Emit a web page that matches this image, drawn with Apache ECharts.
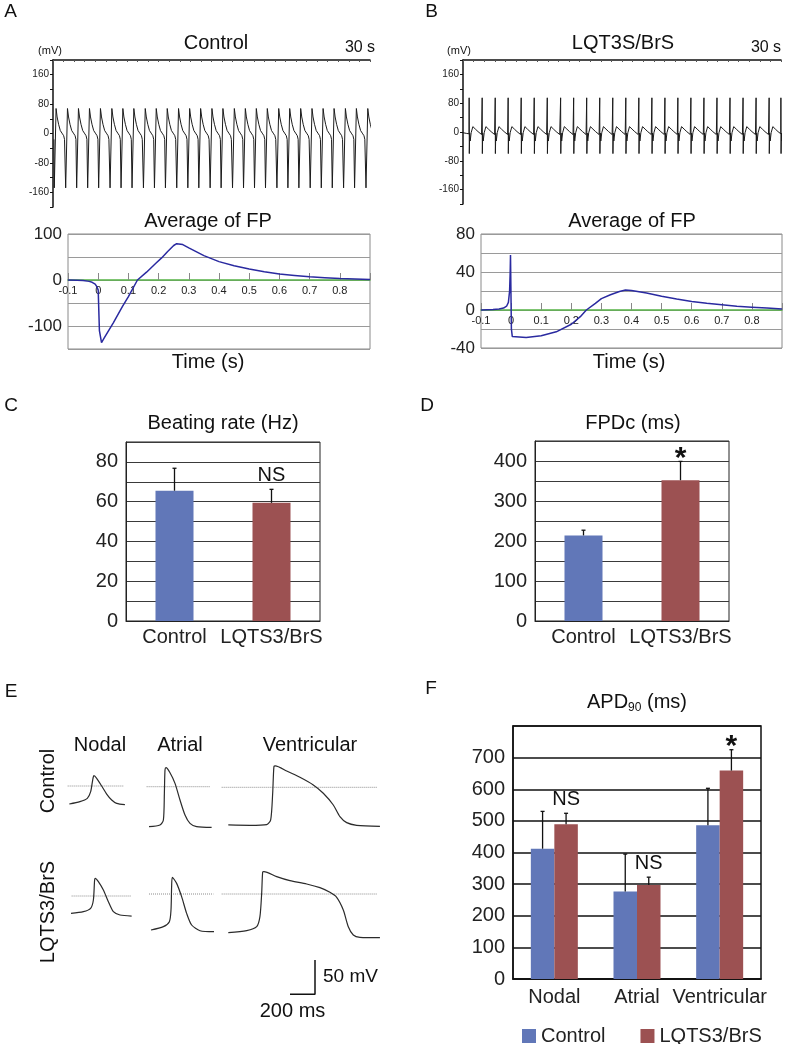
<!DOCTYPE html>
<html><head><meta charset="utf-8">
<script src="https://cdn.jsdelivr.net/npm/echarts@6/dist/echarts.min.js"></script>
<style>html,body{margin:0;padding:0;background:#fff}#c{width:787px;height:1044px}</style>
</head><body><div id="c"></div>
<script>
const FONT = '"Liberation Sans", Arial, Helvetica, sans-serif';

// ---------- Panels A/B: 30 s recordings (beat onsets in s, beat waveform [s offset, mV]) ----------
const rawOnsetsCtrl = [0.09,1.17,2.21,3.25,4.29,5.37,6.41,7.45,8.53,9.57,10.61,11.68,12.73,13.77,14.84,15.88,16.96,18.00,19.04,20.08,21.16,22.20,23.24,24.31,25.36,26.40,27.47,28.51,29.59];
const rawBeatCtrl = [[0,-16],[0.03,-148],[0.2,68],[0.3,45],[0.44,25],[0.6,8],[0.76,1],[0.92,-6],[1.0,-16]];
const rawOnsetsLqt = [0.57,1.80,3.03,4.25,5.48,6.71,7.94,9.20,10.43,11.66,12.89,14.12,15.35,16.58,17.81,19.04,20.26,21.49,22.72,23.95,25.18,26.41,27.64,28.87,29.98];
const rawBeatLqt = [[0,-5],[0.01,95],[0.025,-60],[0.06,-3],[0.11,-25],[0.2,-2],[0.36,15],[0.6,8],[0.85,1],[1.18,-7]];
const rawLeadLqt = [[0,-2],[0.35,-4]];
const rawTickLabels = [-160,-80,0,80,160];

// ---------- Average of FP ----------
const avgTimeCtrl = [-0.1,-0.07,-0.05,-0.03,-0.02,-0.01,-0.004,0,0.004,0.011,0.02,0.05,0.08,0.1,0.13,0.16,0.19,0.21,0.23,0.25,0.26,0.28,0.3,0.35,0.4,0.45,0.5,0.55,0.6,0.65,0.7,0.75,0.8,0.85,0.9];
const avgValCtrl  = [0,-0.5,-1,-3,-5,-9,-15,-22,-110,-136,-126,-93,-58,-36,0,17,36,48,62,75,79,77,70,53,40,31,24,18,13,10,7,5,3,2,1];
const avgTimeLqt = [-0.1,-0.06,-0.04,-0.025,-0.015,-0.009,-0.005,-0.003,-0.002,0.001,0.004,0.01,0.05,0.1,0.15,0.2,0.23,0.25,0.28,0.3,0.33,0.36,0.38,0.4,0.45,0.5,0.55,0.6,0.65,0.7,0.75,0.8,0.85,0.9];
const avgValLqt  = [0,0.5,1,2,4,8,20,40,58,-20,-28,-29,-29,-27,-23,-15,-7,0,7,12,16,19.5,21,20.5,18,14.5,11.5,9,7,5.5,4,3,2,1];
const avgTickLabelsCtrl = [100,0,-100];
const avgTickLabelsLqt = [80,40,0,-40];

// ---------- Panels C/D ----------
const groups = ['Control','LQTS3/BrS'];
const rateMean = [65.5, 59.4];
const rateErr  = [11.3, 6.8];
const rateSig  = ['', 'NS'];
const fpdcMean = [214, 352];
const fpdcErr  = [13, 47];
const fpdcSig  = ['', '*'];

// ---------- Panel E: action potentials [ms, mV rel. to dotted line] ----------
const apCtrlNodal  = [[0,-26.2],[85,-22.8],[144,-18],[171,-8.3],[187,8.7],[197,15],[219,11.2],[259,0],[299,-11.7],[339,-20.4],[379,-25.3],[445,-27.2]];
const apCtrlAtrial = [[0,-58.3],[88,-55.9],[115,-48.6],[123,-9.7],[128,24.3],[136,27.7],[168,20.4],[208,4.9],[248,-19.4],[288,-41.3],[328,-53.5],[381,-58.3],[501,-59.3]];
const apCtrlVent   = [[0,-54.9],[173,-55.4],[307,-54.4],[339,-47.6],[355,-8.7],[365,30.1],[376,31.1],[467,23.8],[573,14.6],[680,3.4],[760,-8.7],[840,-25.8],[893,-42.8],[947,-51.5],[1027,-55.4],[1213,-56.9]];
const apLqtNodal   = [[0,-25.3],[99,-22.8],[157,-18],[179,-5.8],[189,23.3],[195,25.8],[219,20.9],[259,8.7],[299,-8.3],[339,-22.8],[392,-27.7],[485,-29.2]];
const apLqtAtrial  = [[0,-52.5],[99,-47.6],[147,-40.3],[160,-23.3],[165,10.7],[171,24.3],[205,15.5],[245,-3.9],[285,-28.2],[325,-45.2],[392,-53.5],[504,-54.9]];
const apLqtVent    = [[0,-56.4],[147,-53.5],[227,-47.6],[253,-33],[267,1],[275,32.1],[285,32.6],[387,25.3],[493,19.4],[627,14.6],[733,9.2],[813,2.4],[867,-4.9],[920,-23.3],[960,-47.6],[1000,-59.8],[1053,-63.2],[1213,-63.7]];
const apRefSpans   = [[-13,437],[-19,493],[-53,1187],[5,477],[-16,499],[-53,1187]];
const scaleBarMs = 200, scaleBarMv = 50;

// ---------- Panel F ----------
const apCats = ['Nodal','Atrial','Ventricular'];
const apdCtrl    = [412, 277, 486];
const apdCtrlErr = [118, 118, 117];
const apdLqt     = [489, 297, 659];
const apdLqtErr  = [35, 25, 66];
const apdSig     = ['NS','NS','*'];

// =================== build ===================
const BLUE = '#6177b8', RED = '#9c5152';
const grids = [], xAxes = [], yAxes = [], series = [];
function addGrid(g, xa, ya) {
  const i = grids.length;
  grids.push(Object.assign({ outerBoundsMode: 'none', containLabel: false }, g));
  xAxes.push(Object.assign({ gridIndex: i }, xa));
  yAxes.push(Object.assign({ gridIndex: i }, ya));
  return i;
}
function buildRaw(onsets, beat, lead) {
  const out = lead.map(p => p.slice());
  onsets.forEach((t0, k) => {
    const next = k + 1 < onsets.length ? onsets[k + 1] : Infinity;
    beat.forEach(([dt, v]) => { const t = t0 + dt; if (t < next) out.push([Math.round(t * 1000) / 1000, v]); });
  });
  return out;
}
const zip = (a, b) => a.map((v, i) => [v, b[i]]);

// Raw traces
function rawAxes() {
  return [
    { type: 'value', position: 'top', min: 0, max: 30, interval: 1,
      axisLine: { onZero: false, lineStyle: { color: '#111', width: 1.5 } },
      axisTick: { inside: true, length: 2, lineStyle: { color: '#555' } },
      axisLabel: { show: false }, splitLine: { show: false } },
    { type: 'value', min: -200, max: 200, interval: 40,
      axisLine: { show: true, lineStyle: { color: '#111', width: 1.5 } },
      axisTick: { show: true, length: 3, lineStyle: { color: '#111' } },
      axisLabel: { fontSize: 10, fontFamily: FONT, color: '#222', margin: 4,
        formatter: v => rawTickLabels.includes(v) ? String(v) : '' },
      splitLine: { show: false } }
  ];
}
let ra = rawAxes();
const gA = addGrid({ left: 53, top: 60, width: 317, height: 147 }, ra[0], ra[1]);
ra = rawAxes();
const gB = addGrid({ left: 463, top: 60, width: 318, height: 144 }, ra[0], ra[1]);
series.push({ type: 'line', xAxisIndex: gA, yAxisIndex: gA, data: buildRaw(rawOnsetsCtrl, rawBeatCtrl, []),
  showSymbol: false, symbol: 'none', lineStyle: { color: '#1b1b1b', width: 1 } });
series.push({ type: 'line', xAxisIndex: gB, yAxisIndex: gB, data: buildRaw(rawOnsetsLqt, rawBeatLqt, rawLeadLqt),
  showSymbol: false, symbol: 'none', lineStyle: { color: '#1b1b1b', width: 1 } });

// Average FP
function avgX(offset) {
  return { type: 'value', min: -0.1, max: 0.9, interval: 0.1, position: 'bottom', offset,
    axisLine: { onZero: false, lineStyle: { color: '#56b345', width: 1.6 } },
    axisTick: { inside: true, length: 7, lineStyle: { color: '#888' } },
    axisLabel: { fontSize: 11, fontFamily: FONT, color: '#222', margin: 5,
      formatter: v => v > 0.85 ? '' : String(Math.round(v * 10) / 10) },
    splitLine: { show: false } };
}
function avgY(min, max, itv, labels) {
  return { type: 'value', min, max, interval: itv,
    axisLine: { show: false }, axisTick: { show: false },
    axisLabel: { fontSize: 17, fontFamily: FONT, color: '#222', margin: 6,
      formatter: v => labels.includes(v) ? String(v) : '' },
    splitLine: { show: true, lineStyle: { color: '#9a9a9a', width: 1 } } };
}
// zero line offsets from grid bottom (layout)
const gAa = addGrid({ left: 68, top: 234, width: 302, height: 115, show: true, borderColor: '#8a8a8a', borderWidth: 1 },
  avgX(-115 * 150 / 250), avgY(-150, 100, 50, avgTickLabelsCtrl));
const gBa = addGrid({ left: 481, top: 234, width: 301, height: 114, show: true, borderColor: '#8a8a8a', borderWidth: 1 },
  avgX(-114 * 40 / 120), avgY(-40, 80, 20, avgTickLabelsLqt));
series.push({ type: 'line', xAxisIndex: gAa, yAxisIndex: gAa, data: zip(avgTimeCtrl, avgValCtrl), z: 5,
  showSymbol: false, symbol: 'none', lineStyle: { color: '#2a2aa0', width: 1.5 } });
series.push({ type: 'line', xAxisIndex: gBa, yAxisIndex: gBa, data: zip(avgTimeLqt, avgValLqt), z: 5,
  showSymbol: false, symbol: 'none', lineStyle: { color: '#2a2aa0', width: 1.5 } });

// Error bar renderer
function errRender(offsetPx, sig) {
  return function (params, api) {
    const i = api.value(0), m = api.value(1), e = api.value(2);
    const p0 = api.coord([i, m]), p1 = api.coord([i, m + e]);
    const x = p0[0] + offsetPx;
    const st = { stroke: '#111', lineWidth: 1.3 };
    const ch = [
      { type: 'line', shape: { x1: x, y1: p0[1], x2: x, y2: p1[1] }, style: st },
      { type: 'line', shape: { x1: x - 2, y1: p1[1], x2: x + 2, y2: p1[1] }, style: st }
    ];
    const s = sig ? sig[params.dataIndex] : '';
    if (s) {
      const star = s === '*';
      ch.push({ type: 'text', x: x, y: p1[1] - (star ? 3 : 14),
        style: { text: s, fontSize: star ? 30 : 20, fontWeight: star ? 'bold' : 'normal', fontFamily: FONT, fill: '#111',
          align: 'center', verticalAlign: 'middle', textAlign: 'center', textVerticalAlign: 'middle' } });
    }
    return { type: 'group', children: ch };
  };
}
function barX(cats, margin) {
  return { type: 'category', data: cats,
    axisLine: { show: true, lineStyle: { color: '#222', width: 1 } }, axisTick: { show: false },
    axisLabel: { interval: 0, hideOverlap: false, fontSize: 20, fontFamily: FONT, color: '#222', margin } };
}
function barY(max, itv, labelStep, sw, sc) {
  return { type: 'value', min: 0, max, interval: itv,
    axisLine: { show: true, lineStyle: { color: '#222', width: 1 } }, axisTick: { show: false },
    axisLabel: { fontSize: 20, fontFamily: FONT, color: '#222', margin: 8,
      formatter: v => (v % labelStep === 0 && v < max) ? String(v) : '' },
    splitLine: { show: true, lineStyle: { color: sc, width: sw } } };
}
// C
const gC = addGrid({ left: 126, top: 442, width: 194, height: 179, show: true, borderColor: '#222', borderWidth: 1 },
  barX(groups, 6), barY(90, 10, 20, 1, '#3a3a3a'));
series.push({ type: 'bar', name: 'Beating rate', xAxisIndex: gC, yAxisIndex: gC, barWidth: 38, z: 3,
  data: rateMean.map((v, i) => ({ value: v, itemStyle: { color: i ? RED : BLUE } })) });
series.push({ type: 'custom', xAxisIndex: gC, yAxisIndex: gC, z: 4, renderItem: errRender(0, rateSig),
  data: rateMean.map((v, i) => [i, v, rateErr[i]]) });
// D
const gD = addGrid({ left: 535, top: 441, width: 194, height: 180, show: true, borderColor: '#222', borderWidth: 1 },
  barX(groups, 6), barY(450, 50, 100, 1, '#3a3a3a'));
series.push({ type: 'bar', name: 'FPDc', xAxisIndex: gD, yAxisIndex: gD, barWidth: 38, z: 3,
  data: fpdcMean.map((v, i) => ({ value: v, itemStyle: { color: i ? RED : BLUE } })) });
series.push({ type: 'custom', xAxisIndex: gD, yAxisIndex: gD, z: 4, renderItem: errRender(0, fpdcSig),
  data: fpdcMean.map((v, i) => [i, v, fpdcErr[i]]) });
// F
const BWF = 23.5;
const gF = addGrid({ left: 513, top: 726, width: 248, height: 253, show: true, borderColor: '#111', borderWidth: 1.5 },
  barX(apCats, 8), barY(800, 100, 100, 1.5, '#111'));
xAxes[gF].axisLine.lineStyle = { color: '#111', width: 1.5 };
yAxes[gF].axisLine.lineStyle = { color: '#111', width: 1.5 };
series.push({ type: 'bar', name: 'Control', xAxisIndex: gF, yAxisIndex: gF, barWidth: BWF, barGap: '0%', z: 3,
  itemStyle: { color: BLUE }, data: apdCtrl });
series.push({ type: 'bar', name: 'LQTS3/BrS', xAxisIndex: gF, yAxisIndex: gF, barWidth: BWF, barGap: '0%', z: 3,
  itemStyle: { color: RED }, data: apdLqt });
series.push({ type: 'custom', xAxisIndex: gF, yAxisIndex: gF, z: 4, renderItem: errRender(-BWF / 2, null),
  data: apdCtrl.map((v, i) => [i, v, apdCtrlErr[i]]) });
series.push({ type: 'custom', xAxisIndex: gF, yAxisIndex: gF, z: 4, renderItem: errRender(BWF / 2, apdSig),
  data: apdLqt.map((v, i) => [i, v, apdLqtErr[i]]) });

// E: action potentials
const PX_MS = 0.125, PX_MV = 0.686, Y_MIN = -70, Y_MAX = 40;
const apTraces = [apCtrlNodal, apCtrlAtrial, apCtrlVent, apLqtNodal, apLqtAtrial, apLqtVent];
const apStartX = [69.3, 149, 228.3, 71, 151, 228.3];
const apZeroY  = [786, 786.7, 787.3, 896, 894, 894];
apTraces.forEach((tr, k) => {
  const span = apRefSpans[k];
  const xmin = Math.min(0, span[0]), xmax = Math.max(tr[tr.length - 1][0], span[1]);
  const g = addGrid({ left: apStartX[k] + xmin * PX_MS, top: apZeroY[k] - Y_MAX * PX_MV,
      width: (xmax - xmin) * PX_MS, height: (Y_MAX - Y_MIN) * PX_MV },
    { type: 'value', min: xmin, max: xmax, show: false },
    { type: 'value', min: Y_MIN, max: Y_MAX, show: false });
  series.push({ type: 'line', xAxisIndex: g, yAxisIndex: g, data: [[span[0], 0], [span[1], 0]], clip: false,
    showSymbol: false, symbol: 'none', lineStyle: { color: '#8c8c8c', width: 1, type: 'dotted' } });
  series.push({ type: 'line', xAxisIndex: g, yAxisIndex: g, data: tr, clip: false, smooth: 0.25,
    showSymbol: false, symbol: 'none', lineStyle: { color: '#2b2b2b', width: 1.2 } });
});
const gS = addGrid({ left: 290, top: 960, width: scaleBarMs * PX_MS, height: scaleBarMv * PX_MV },
  { type: 'value', min: 0, max: scaleBarMs, show: false },
  { type: 'value', min: 0, max: scaleBarMv, show: false });
series.push({ type: 'line', xAxisIndex: gS, yAxisIndex: gS, clip: false,
  data: [[0, 0], [scaleBarMs, 0], [scaleBarMs, scaleBarMv]],
  showSymbol: false, symbol: 'none', lineStyle: { color: '#111', width: 1.5 } });

// Texts
function txt(t, x, y, size, opt) {
  opt = opt || {};
  const al = opt.align || 'center';
  return { type: 'text', x, y, rotation: opt.rot || 0, silent: true,
    style: { text: t, fontSize: size, fontFamily: FONT, fill: '#111', fontWeight: opt.bold ? 'bold' : 'normal',
      align: al, verticalAlign: 'middle', textAlign: al, textVerticalAlign: 'middle', rich: opt.rich } };
}
const texts = [
  txt('A', 10.5, 12, 19), txt('B', 431.5, 12, 19), txt('C', 11, 406, 19), txt('D', 427, 406, 19),
  txt('E', 11, 692, 19), txt('F', 431, 689, 19),
  txt('Control', 216, 43, 20), txt('LQT3S/BrS', 623, 43, 20),
  txt('(mV)', 50, 51, 11), txt('(mV)', 459, 51, 11),
  txt('30 s', 360, 48, 16), txt('30 s', 766, 48, 16),
  txt('Average of FP', 208, 221, 20), txt('Average of FP', 632, 221, 20),
  txt('Time (s)', 208, 362, 20), txt('Time (s)', 629, 362, 20),
  txt('Beating rate (Hz)', 223, 423, 20), txt('FPDc (ms)', 633, 423, 20),
  txt('Nodal', 100, 745, 20), txt('Atrial', 180, 745, 20), txt('Ventricular', 310, 745, 20),
  txt('Control', 48, 781, 20, { rot: Math.PI / 2 }), txt('LQTS3/BrS', 48, 912, 20, { rot: Math.PI / 2 }),
  txt('50 mV', 323, 977, 19, { align: 'left' }), txt('200 ms', 292.5, 1011, 20),
  txt('{a|APD}{s|90}{a| (ms)}', 637, 702, 20, { rich: {
    a: { fontSize: 20, fontFamily: FONT, fill: '#111', lineHeight: 24 },
    s: { fontSize: 12, fontFamily: FONT, fill: '#111', lineHeight: 14, verticalAlign: 'bottom' } } })
];

const chart = echarts.init(document.getElementById('c'), null, { renderer: 'canvas' });
chart.setOption({
  animation: false,
  backgroundColor: '#fff',
  textStyle: { fontFamily: FONT },
  grid: grids, xAxis: xAxes, yAxis: yAxes, series,
  legend: { data: ['Control', 'LQTS3/BrS'], left: 517, top: 1021, icon: 'rect', itemWidth: 14, itemHeight: 14,
    itemGap: 35, selectedMode: false, textStyle: { fontSize: 20, fontFamily: FONT, color: '#222' } },
  graphic: { elements: texts }
});
</script></body></html>
